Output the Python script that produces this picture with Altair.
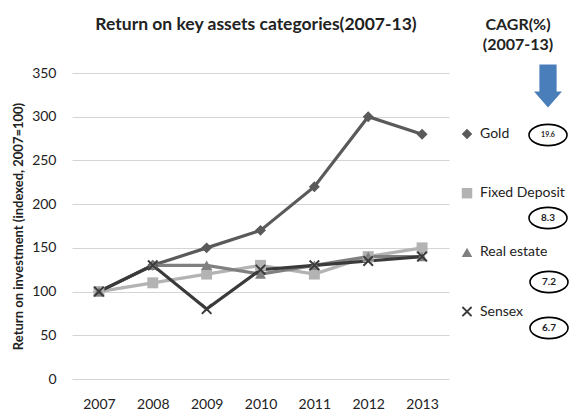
import altair as alt
import pandas as pd

years = ["2007", "2008", "2009", "2010", "2011", "2012", "2013"]
series_names = ["Gold", "Fixed Deposit", "Real estate", "Sensex"]
gold = [100, 130, 150, 170, 220, 300, 280]
fixed_deposit = [100, 110, 120, 130, 120, 140, 150]
real_estate = [100, 130, 130, 120, 130, 140, 140]
sensex = [100, 130, 80, 125, 130, 135, 140]
cagr = ["19.6", "8.3", "7.2", "6.7"]

title_text = "Return on key assets categories(2007-13)"
cagr_head = ["CAGR(%)", "(2007-13)"]
y_title = "Return on investment (indexed, 2007=100)"

values = {"Gold": gold, "Fixed Deposit": fixed_deposit,
          "Real estate": real_estate, "Sensex": sensex}
rows = []
for s in series_names:
    for y, v in zip(years, values[s]):
        rows.append({"year": y, "series": s, "value": v})
df = pd.DataFrame(rows)

colors = ["#5a5a5a", "#b3b3b3", "#808080", "#3a3a3a"]
xshape = "M-1,-0.75L-0.75,-1L0,-0.25L0.75,-1L1,-0.75L0.25,0L1,0.75L0.75,1L0,0.25L-0.75,1L-1,0.75L-0.25,0Z"
shapes = ["diamond", "square", "triangle-up", xshape]

color_scale = alt.Scale(domain=series_names, range=colors)
shape_scale = alt.Scale(domain=series_names, range=shapes)

x_enc = alt.X("year:O", title=None,
              axis=alt.Axis(labelAngle=0, labelFontSize=14, labelPadding=18,
                            ticks=False, domain=False, labelColor="#222"))
y_enc = alt.Y("value:Q", title=y_title,
              scale=alt.Scale(domain=[0, 350]),
              axis=alt.Axis(values=list(range(0, 351, 50)), labelFontSize=14,
                            labelPadding=16, ticks=False, domain=False,
                            gridColor="#d4d4d4", labelColor="#222",
                            titleFontSize=13, titleFontWeight="bold",
                            titlePadding=6, titleColor="#222"))

lines = alt.Chart(df).mark_line(strokeWidth=3.2).encode(
    x=x_enc, y=y_enc,
    color=alt.Color("series:N", scale=color_scale, sort=series_names, title=None,
                    legend=alt.Legend(orient="none", legendX=388, legendY=54,
                                      labelFontSize=14, labelColor="#222",
                                      symbolSize=110, rowPadding=45.2,
                                      symbolStrokeWidth=0, labelOffset=6)),
    shape=alt.Shape("series:N", scale=shape_scale, sort=series_names, title=None),
    order=alt.Order("year:O"),
)
points = alt.Chart(df).mark_point(filled=True, size=120, opacity=1).encode(
    x=x_enc, y=y_enc,
    color=alt.Color("series:N", scale=color_scale, sort=series_names, title=None),
    shape=alt.Shape("series:N", scale=shape_scale, sort=series_names, title=None),
)

title = alt.Chart(pd.DataFrame({"t": [title_text]})).mark_text(
    fontSize=17.5, fontWeight="bold", color="#222", baseline="middle", align="center"
).encode(text="t:N", x=alt.value(184), y=alt.value(-48))

head1 = alt.Chart(pd.DataFrame({"t": [cagr_head[0]]})).mark_text(
    fontSize=16, fontWeight="bold", color="#222", baseline="middle", align="center"
).encode(text="t:N", x=alt.value(446), y=alt.value(-48))
head2 = alt.Chart(pd.DataFrame({"t": [cagr_head[1]]})).mark_text(
    fontSize=16, fontWeight="bold", color="#222", baseline="middle", align="center"
).encode(text="t:N", x=alt.value(446), y=alt.value(-28))

arrow_path = "M-0.4,-1L0.4,-1L0.4,0.26L0.65,0.26L0,1L-0.65,0.26L-0.4,0.26Z"
arrow = alt.Chart(pd.DataFrame({"t": [0]})).mark_point(
    shape=arrow_path, filled=True, color="#4a7ebb", size=1849, opacity=1
).encode(x=alt.value(476), y=alt.value(13))

ellipse_path = "M-1,0A1,0.56,0,1,0,1,0A1,0.56,0,1,0,-1,0Z"
ell_pos = [(476, 62), (476, 145), (477, 209), (477, 255)]
ell_font = [7, 10, 10, 10]
ann = []
for i, val in enumerate(cagr):
    d = pd.DataFrame({"t": [val]})
    ex, ey = ell_pos[i]
    ann.append(alt.Chart(d).mark_point(
        shape=ellipse_path, filled=False, color="black", strokeWidth=1.6,
        size=1444, opacity=1
    ).encode(x=alt.value(ex), y=alt.value(ey)))
    ann.append(alt.Chart(d).mark_text(
        fontSize=ell_font[i], fontWeight="bold", color="#222",
        baseline="middle", align="center"
    ).encode(text="t:N", x=alt.value(ex), y=alt.value(ey)))

chart = alt.layer(lines, points, title, head1, head2, arrow, *ann).properties(
    width=377, height=306,
    autosize=alt.AutoSizeParams(type="none"),
    padding={"left": 72, "top": 73, "right": 123, "bottom": 33},
).configure(font="Lato").configure_view(stroke=None)

chart.save("out.html", embed_options={"renderer": "svg", "actions": False})
